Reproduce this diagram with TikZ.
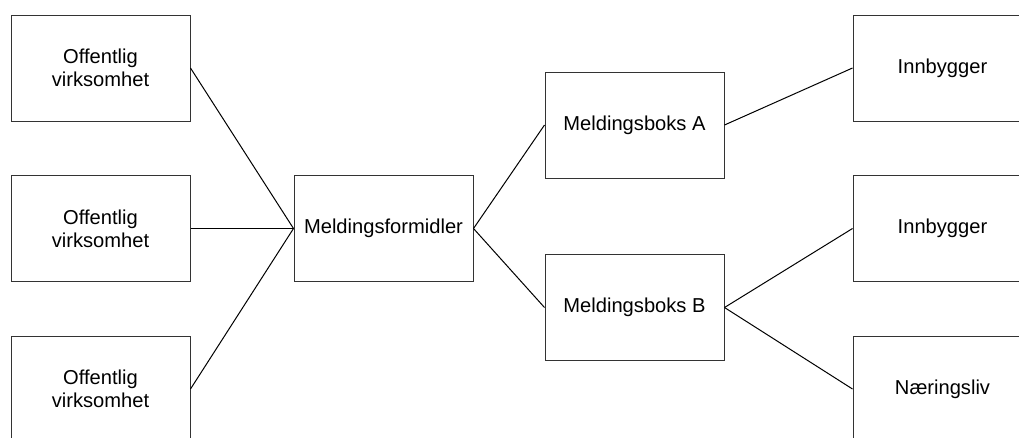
\documentclass[tikz,border=0pt]{standalone}
\usepackage{fontspec}
\setmainfont{Liberation Sans}
\begin{document}
\begin{tikzpicture}[x=0.75pt,y=-0.75pt,
  box/.style={draw=black!80, line width=0.75pt, fill=white, minimum width=134.25pt, minimum height=79.5pt,
    inner sep=0pt, align=center, font=\fontsize{15.1}{17}\selectfont},
  link/.style={draw=black, line width=0.75pt}]
\useasboundingbox (0,0) rectangle (1019,437);
\clip (0,0) rectangle (1019,437);
\node[box] (l1) at (100.5,68) {Offentlig\\virksomhet};
\node[box] (l2) at (100.5,228.5) {Offentlig\\virksomhet};
\node[box] (l3) at (100.5,389) {Offentlig\\virksomhet};
\node[box] (m) at (383.5,228.5) {Meldingsformidler};
\node[box] (a) at (634.5,125) {Meldingsboks A};
\node[box] (b) at (634.5,307.5) {Meldingsboks B};
\node[box] (r1) at (942.5,68) {Innbygger};
\node[box] (r2) at (942.5,228.5) {Innbygger};
\node[box] (r3) at (942.5,389) {Næringsliv};
\draw[link] (l1.east) -- (m.west);
\draw[link] (l2.east) -- (m.west);
\draw[link] (l3.east) -- (m.west);
\draw[link] (m.east) -- (a.west);
\draw[link] (m.east) -- (b.west);
\draw[link] (a.east) -- (r1.west);
\draw[link] (b.east) -- (r2.west);
\draw[link] (b.east) -- (r3.west);
\end{tikzpicture}
\end{document}
